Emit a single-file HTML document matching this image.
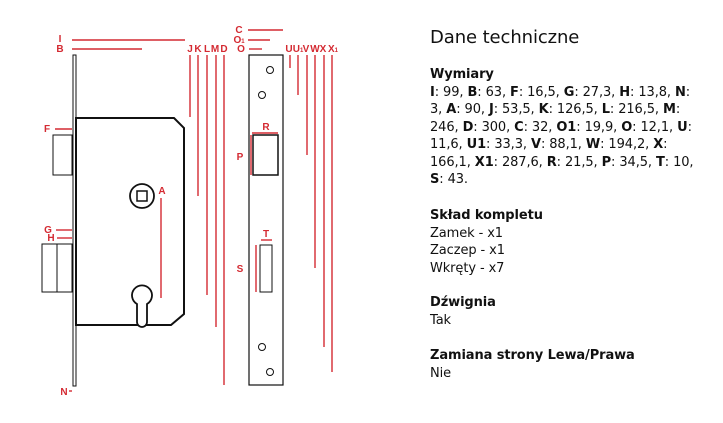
<!DOCTYPE html>
<html><head><meta charset="utf-8"><style>
body{margin:0;width:723px;height:423px;background:#fff;position:relative;overflow:hidden;font-family:"DejaVu Sans","Liberation Sans",sans-serif;color:#111}
svg{position:absolute;left:0;top:0}
.t{position:absolute;left:430px;font-size:13px;line-height:17.5px;white-space:nowrap;letter-spacing:-0.1px}
.h{font-weight:bold}
</style></head><body>
<svg width="723" height="423" viewBox="0 0 723 423">
<g stroke="#d42a32" stroke-width="1.4" fill="none">
<line x1="72" y1="40" x2="185" y2="40"/><line x1="72" y1="49" x2="142" y2="49"/>
<line x1="55" y1="129" x2="72" y2="129"/><line x1="56" y1="230" x2="72" y2="230"/><line x1="57" y1="238" x2="72" y2="238"/>
<line x1="161" y1="198" x2="161" y2="298"/>
<line x1="190" y1="55" x2="190" y2="117"/><line x1="198" y1="55" x2="198" y2="196"/><line x1="207" y1="55" x2="207" y2="295"/><line x1="216" y1="55" x2="216" y2="327"/><line x1="224" y1="55" x2="224" y2="385"/>
<line x1="248" y1="30" x2="283" y2="30"/><line x1="248" y1="40" x2="270" y2="40"/><line x1="249" y1="49" x2="262" y2="49"/>
<line x1="252" y1="133" x2="278" y2="133"/><line x1="251" y1="135" x2="251" y2="175"/>
<line x1="261" y1="240" x2="272" y2="240"/><line x1="256" y1="245" x2="256" y2="292"/>
<line x1="290" y1="55" x2="290" y2="68"/><line x1="298" y1="55" x2="298" y2="95"/><line x1="307" y1="55" x2="307" y2="155"/><line x1="315" y1="55" x2="315" y2="268"/><line x1="324" y1="55" x2="324" y2="347"/><line x1="332" y1="55" x2="332" y2="372"/>
<line x1="69" y1="391" x2="72" y2="391"/>
</g>
<g fill="#d42a32" font-family="Liberation Sans,sans-serif" font-weight="bold" font-size="10" text-anchor="middle">
<text x="60" y="42">I</text><text x="60" y="52">B</text><text x="47" y="132">F</text><text x="48" y="233">G</text><text x="51" y="241">H</text><text x="64" y="395">N</text>
<text x="162" y="194">A</text>
<text x="190" y="52">J</text><text x="198" y="52">K</text><text x="207" y="52">L</text><text x="215" y="52">M</text><text x="224" y="52">D</text>
<text x="239" y="33">C</text><text x="239" y="43">O<tspan font-size="6">1</tspan></text><text x="241" y="52">O</text>
<text x="266" y="130">R</text><text x="240" y="160">P</text><text x="266" y="237">T</text><text x="240" y="272">S</text>
<text x="289" y="52">U</text><text x="298" y="52">U<tspan font-size="6">1</tspan></text><text x="306" y="52">V</text><text x="315" y="52">W</text><text x="323" y="52">X</text><text x="333" y="52">X<tspan font-size="6">1</tspan></text>
</g>
<g stroke="#111" fill="none">
<rect x="73" y="55" width="3" height="331" stroke-width="1"/>
<path d="M76 118 H174 L184 128 V314 L171 325 H76 Z" stroke-width="2"/>
<rect x="53" y="135" width="19" height="40" stroke-width="1"/>
<rect x="42" y="244" width="30" height="48" stroke-width="1"/><line x1="57" y1="244" x2="57" y2="292"/>
<circle cx="142" cy="196" r="12" stroke-width="1.8"/><rect x="137" y="191" width="10" height="10" stroke-width="1.5"/>
<path d="M137 322 V304 A10 10 0 1 1 147 304 V322 A5 5 0 0 1 137 322 Z" stroke-width="1.8" fill="#fff"/>
<rect x="249" y="55" width="34" height="330" stroke-width="1.2"/>
<circle cx="270" cy="70" r="3.5"/><circle cx="262" cy="95" r="3.5"/><circle cx="262" cy="347" r="3.5"/><circle cx="270" cy="372" r="3.5"/>
<rect x="253" y="135" width="25" height="40" stroke-width="1.5"/>
<rect x="260" y="245" width="12" height="47" stroke-width="1"/>
</g>
</svg>
<div class="t" style="top:26px;font-size:18px;line-height:24px">Dane techniczne</div>
<div class="t" style="top:66px"><span class="h">Wymiary</span><br>
<b>I</b>: 99, <b>B</b>: 63, <b>F</b>: 16,5, <b>G</b>: 27,3, <b>H</b>: 13,8, <b>N</b>:<br>
3, <b>A</b>: 90, <b>J</b>: 53,5, <b>K</b>: 126,5, <b>L</b>: 216,5, <b>M</b>:<br>
246, <b>D</b>: 300, <b>C</b>: 32, <b>O1</b>: 19,9, <b>O</b>: 12,1, <b>U</b>:<br>
11,6, <b>U1</b>: 33,3, <b>V</b>: 88,1, <b>W</b>: 194,2, <b>X</b>:<br>
166,1, <b>X1</b>: 287,6, <b>R</b>: 21,5, <b>P</b>: 34,5, <b>T</b>: 10,<br>
<b>S</b>: 43.</div>
<div class="t" style="top:207px"><span class="h">Skład kompletu</span><br>Zamek - x1<br>Zaczep - x1<br>Wkręty - x7</div>
<div class="t" style="top:294px"><span class="h">Dźwignia</span><br>Tak</div>
<div class="t" style="top:347px"><span class="h">Zamiana strony Lewa/Prawa</span><br>Nie</div>
</body></html>
